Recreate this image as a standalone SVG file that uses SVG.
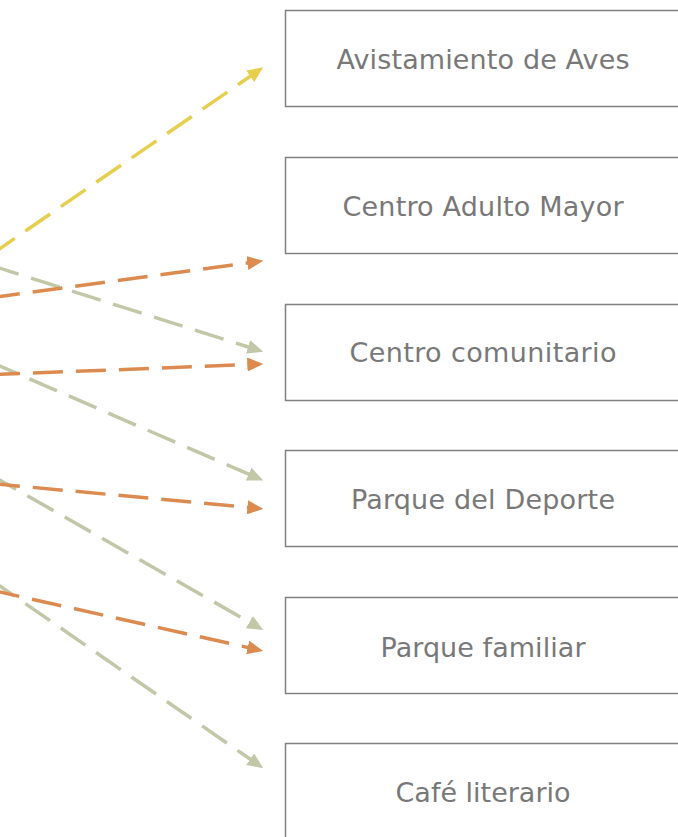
<svg xmlns="http://www.w3.org/2000/svg" width="678" height="837" viewBox="0 0 678 837">
<style>
.box rect{fill:#ffffff;stroke:#808080;stroke-width:1.5}
.box text{font-family:"DejaVu Sans","Liberation Sans",sans-serif;font-size:27px;fill:#787878;text-anchor:middle}
.c{fill:none;stroke-width:3.5;stroke-dasharray:30 13}
.y{stroke:#E6CF4E;marker-end:url(#ay)}
.o{stroke:#DB8B50;marker-end:url(#ao)}
.g{stroke:#C2C7A8;marker-end:url(#ag)}
</style>
<defs>
<marker id="ay" markerUnits="userSpaceOnUse" markerWidth="16" markerHeight="14" refX="2" refY="7" orient="auto"><path d="M0,0 L16,7 L0,14 z" fill="#E6CF4E"/></marker>
<marker id="ao" markerUnits="userSpaceOnUse" markerWidth="16" markerHeight="14" refX="2" refY="7" orient="auto"><path d="M0,0 L16,7 L0,14 z" fill="#DB8B50"/></marker>
<marker id="ag" markerUnits="userSpaceOnUse" markerWidth="16" markerHeight="14" refX="2" refY="7" orient="auto"><path d="M0,0 L16,7 L0,14 z" fill="#C2C7A8"/></marker>
</defs>
<rect width="678" height="837" fill="#ffffff"/>
<g id="nodes">
<g id="n1" class="box"><rect x="285.5" y="10.5" width="400" height="96"/><text x="483" y="68.5" textLength="293">Avistamiento de Aves</text></g>
<g id="n2" class="box"><rect x="285.5" y="157.5" width="400" height="96"/><text x="483" y="215.5" textLength="281">Centro Adulto Mayor</text></g>
<g id="n3" class="box"><rect x="285.5" y="304.5" width="400" height="96"/><text x="483" y="362" textLength="267">Centro comunitario</text></g>
<g id="n4" class="box"><rect x="285.5" y="450.5" width="400" height="96"/><text x="483" y="509" textLength="264">Parque del Deporte</text></g>
<g id="n5" class="box"><rect x="285.5" y="597.5" width="400" height="96"/><text x="483" y="656.5" textLength="205">Parque familiar</text></g>
<g id="n6" class="box"><rect x="285.5" y="743.5" width="400" height="96"/><text x="483" y="802" textLength="175">Café literario</text></g>
</g>
<g id="connectors">
<line class="c g" x1="-10" y1="265.1" x2="250.0" y2="347.5"/>
<line class="c g" x1="-10" y1="361.7" x2="250.5" y2="474.9"/>
<line class="c g" x1="-10" y1="474.5" x2="251.1" y2="623.1"/>
<line class="c g" x1="-10" y1="579.1" x2="251.8" y2="760.3"/>
<line class="c o" x1="-10" y1="297.8" x2="249.4" y2="262.7"/>
<line class="c o" x1="-10" y1="374.7" x2="249.3" y2="364.5"/>
<line class="c o" x1="-10" y1="483.4" x2="249.4" y2="507.5"/>
<line class="c o" x1="-10" y1="589.8" x2="249.6" y2="647.9"/>
<line class="c y" x1="-10" y1="255.4" x2="251.8" y2="75.2"/>
</g>
</svg>
